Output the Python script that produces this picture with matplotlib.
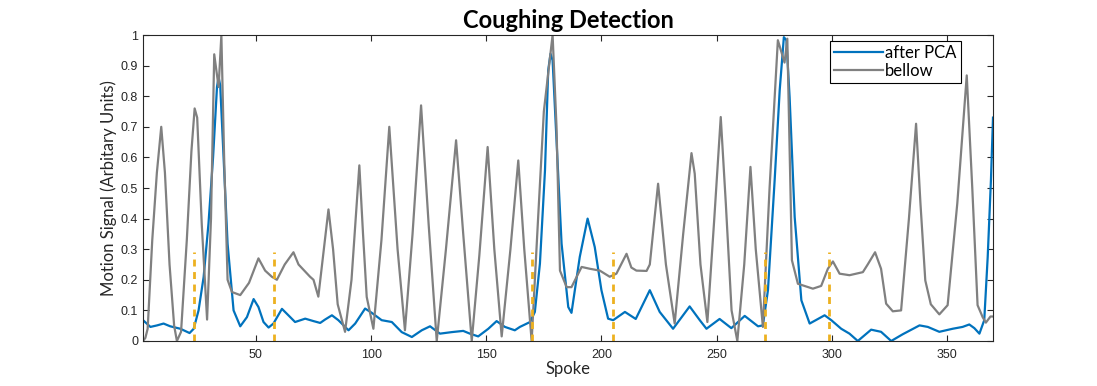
import matplotlib.pyplot as plt
import numpy as np

plt.rcParams['font.family'] = ['Lato', 'DejaVu Sans']

# bellow signal (gray)
bellow_x = [1, 2, 3, 5, 7, 8.9, 10.5, 12.5, 14.5, 15.7, 17.5, 20, 22, 23.4, 24.5, 26.5, 28.8,
            30.5, 31.9, 33.8, 35, 36.2, 37.7, 39.6, 43.2, 47, 51.1, 54, 56.9, 59.1, 62.5, 66.3,
            68.5, 73.5, 75, 77.1, 79.5, 81.5, 83.5, 85.5, 88.7, 91.5, 94.9, 96.5, 98.1, 101,
            104.5, 107.9, 111.5, 114.7, 118, 121.7, 125, 128.5, 132.5, 136.9, 140, 143.7, 147,
            150.6, 153.5, 156.7, 160.5, 163.9, 166.5, 169.7, 172.5, 175, 178.8, 180.5, 182,
            184.9, 187, 189.9, 191.4, 195, 199.3, 203.6, 206.5, 210.9, 213, 215.2, 219.6, 221,
            224.6, 228, 231.8, 235.5, 239.1, 240.5, 243, 246, 249, 251.8, 254, 256.5, 259,
            262, 264.7, 267, 270.1, 273, 276.6, 279.5, 280.7, 282.7, 285.3, 291.8, 295.4,
            298.3, 300.5, 303.4, 307.7, 313.5, 315.6, 318.8, 321.4, 323.6, 326.5, 330.1,
            333.5, 336.6, 338.5, 340.6, 343, 346.7, 350.3, 354.5, 358.6, 361, 363.3, 365.5,
            366.9, 368.9, 370]
bellow_y = [0.0, 0.01, 0.04, 0.33, 0.55, 0.70, 0.55, 0.25, 0.05, 0.0, 0.03, 0.33, 0.62, 0.76,
            0.73, 0.38, 0.07, 0.40, 0.937, 0.83, 1.0, 0.60, 0.20, 0.16, 0.15, 0.19, 0.27, 0.23,
            0.21, 0.20, 0.25, 0.29, 0.25, 0.21, 0.20, 0.145, 0.30, 0.43, 0.30, 0.12, 0.03, 0.20,
            0.574, 0.35, 0.144, 0.04, 0.33, 0.70, 0.30, 0.035, 0.35, 0.77, 0.38, 0.0, 0.30,
            0.656, 0.35, 0.0, 0.28, 0.634, 0.30, 0.015, 0.30, 0.59, 0.30, 0.0, 0.40, 0.75,
            1.0, 0.70, 0.23, 0.176, 0.176, 0.22, 0.242, 0.236, 0.23, 0.21, 0.22, 0.285, 0.24,
            0.23, 0.229, 0.25, 0.514, 0.25, 0.057, 0.35, 0.614, 0.547, 0.25, 0.062, 0.40,
            0.732, 0.45, 0.10, 0.0, 0.25, 0.569, 0.30, 0.046, 0.50, 0.983, 0.91, 0.988, 0.264,
            0.187, 0.171, 0.18, 0.236, 0.26, 0.22, 0.215, 0.225, 0.25, 0.29, 0.236, 0.122,
            0.097, 0.10, 0.40, 0.71, 0.45, 0.198, 0.12, 0.087, 0.117, 0.45, 0.868, 0.50, 0.117,
            0.078, 0.06, 0.08, 0.08]

# after PCA signal (blue)
pca_x = [1, 4.2, 7.1, 9.9, 12.8, 17.2, 21.2, 23, 25.1, 27.3, 29.4, 31.4, 33.1, 33.8, 34.5,
         35.9, 37.7, 40.3, 43.2, 46.1, 49, 51.1, 53.3, 55.5, 57.6, 61.3, 64.1, 67, 71.4, 75,
         77.9, 80, 83, 85.8, 90.2, 93.1, 97.4, 100.3, 104.6, 109, 113.3, 117.7, 122, 125.6,
         129.9, 135, 140, 142.9, 146.5, 150.9, 154.5, 158.1, 162.4, 164.6, 169, 171.1, 173.3,
         175.5, 176.9, 177.9, 178.8, 180.5, 182.7, 185.6, 187, 190.6, 194, 197.1, 200, 202.9,
         205.1, 210.2, 214.9, 221, 225.3, 231.1, 238.3, 242.7, 245.6, 251.3, 256.4, 262.2, 268,
         270.1, 272.3, 275.2, 277.4, 279.2, 280.3, 281.7, 283.9, 286.8, 290.4, 296.9, 299.8,
         304.1, 307.7, 311.3, 317.1, 321.4, 325.8, 330.8, 338.1, 341.7, 346.7, 352.5, 356.8,
         359.7, 361.9, 364.1, 366.2, 367.7, 369.1, 370]
pca_y = [0.068, 0.046, 0.051, 0.057, 0.048, 0.04, 0.026, 0.04, 0.10, 0.209, 0.383, 0.60, 0.83,
         0.863, 0.835, 0.61, 0.318, 0.10, 0.048, 0.078, 0.137, 0.111, 0.062, 0.044, 0.057,
         0.105, 0.084, 0.062, 0.073, 0.065, 0.059, 0.07, 0.084, 0.068, 0.035, 0.057, 0.106,
         0.092, 0.068, 0.062, 0.029, 0.013, 0.035, 0.048, 0.024, 0.029, 0.033, 0.024, 0.015,
         0.04, 0.065, 0.046, 0.035, 0.046, 0.062, 0.095, 0.253, 0.558, 0.885, 0.939, 0.917,
         0.656, 0.318, 0.111, 0.092, 0.275, 0.40, 0.307, 0.166, 0.073, 0.068, 0.095, 0.072,
         0.166, 0.095, 0.04, 0.113, 0.068, 0.04, 0.072, 0.042, 0.082, 0.048, 0.051, 0.166,
         0.525, 0.82, 0.993, 0.983, 0.797, 0.405, 0.133, 0.057, 0.084, 0.068, 0.04, 0.024,
         0.0, 0.037, 0.03, 0.0, 0.022, 0.051, 0.046, 0.03, 0.04, 0.046, 0.054, 0.042, 0.024,
         0.068, 0.275, 0.525, 0.73]

# cough markers (orange dashed)
cough_x = [23, 58, 170, 205, 271, 299]
cough_h = 0.29

fig = plt.figure(figsize=(10.97, 3.86), dpi=100)
fig.set_facecolor('white')
ax = fig.add_axes([0.1304, 0.1166, 0.7748, 0.7927])

ax.plot(pca_x, pca_y, color='#0072BD', lw=1.6, label='after PCA')
ax.plot(bellow_x, bellow_y, color='#808080', lw=1.6, label='bellow')
for cx in cough_x:
    ax.plot([cx, cx], [0, cough_h], color='#EDB120', lw=2, ls=(0, (2.5, 2)))

ax.set_xlim(1, 370)
ax.set_ylim(0, 1)
ax.set_xticks(np.arange(50, 351, 50))
ax.set_yticks(np.arange(0, 1.01, 0.1))
ax.set_yticklabels(['0', '0.1', '0.2', '0.3', '0.4', '0.5', '0.6', '0.7', '0.8', '0.9', '1'])
ax.tick_params(direction='in', top=True, right=True, labelsize=9, length=4, color='#262626',
               labelcolor='#262626')
ax.tick_params(axis='x', pad=6)
for lab in ax.get_xticklabels() + ax.get_yticklabels():
    lab.set_family(['Liberation Sans', 'DejaVu Sans'])
for s in ax.spines.values():
    s.set_color('#262626')
    s.set_linewidth(0.8)

ax.set_xlabel('Spoke', fontsize=12, labelpad=0, color='#262626')
ax.set_ylabel('Motion Signal (Arbitary Units)', fontsize=12, labelpad=3, color='#262626')
ax.set_title('Coughing Detection', fontsize=17, fontweight='bold', pad=5)

leg = ax.legend(loc='upper right', bbox_to_anchor=(0.962, 0.98), fontsize=12, fancybox=False,
                edgecolor='black', framealpha=1, borderaxespad=0, handlelength=2.9,
                handletextpad=0.15, borderpad=0.25, labelspacing=0.1)
leg.get_frame().set_linewidth(0.8)

plt.savefig('out.png', dpi=100)
